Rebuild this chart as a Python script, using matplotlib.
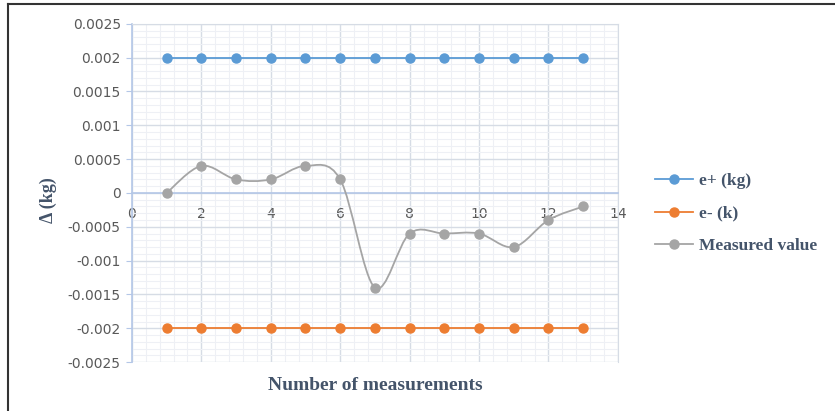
import numpy as np
import matplotlib
matplotlib.use("Agg")
from matplotlib import pyplot as plt
from matplotlib.path import Path
from matplotlib.patches import PathPatch
from matplotlib.lines import Line2D
from matplotlib.ticker import MultipleLocator

# data
measurements = [1, 2, 3, 4, 5, 6, 7, 8, 9, 10, 11, 12, 13]
e_plus = [0.002] * 13
e_minus = [-0.002] * 13
measured = [0, 0.0004, 0.0002, 0.0002, 0.0004, 0.0002, -0.0014,
            -0.0006, -0.0006, -0.0006, -0.0008, -0.0004, -0.0002]
legend_labels = ["e+ (kg)", "e- (k)", "Measured value"]

BLUE = "#5B9BD5"
ORANGE = "#ED7D31"
GREY = "#A5A5A5"
TEXT = "#595959"
TITLE = "#44546A"
SERIF = "Liberation Serif"


def smooth_path(xs, ys, tension=1 / 6):
    """Excel-like smoothed line: cubic Bezier segments through the data points."""
    x = np.asarray(xs, float)
    y = np.asarray(ys, float)
    n = len(x)
    verts = [(x[0], y[0])]
    codes = [Path.MOVETO]
    for i in range(n - 1):
        x0, y0 = (x[i - 1], y[i - 1]) if i > 0 else (x[i], y[i])
        x3, y3 = (x[i + 2], y[i + 2]) if i + 2 < n else (x[i + 1], y[i + 1])
        c1 = (x[i] + (x[i + 1] - x0) * tension, y[i] + (y[i + 1] - y0) * tension)
        c2 = (x[i + 1] - (x3 - x[i]) * tension, y[i + 1] - (y3 - y[i]) * tension)
        verts += [c1, c2, (x[i + 1], y[i + 1])]
        codes += [Path.CURVE4] * 3
    return Path(verts, codes)


fig = plt.figure(figsize=(8.35, 4.11), dpi=100)
ax = fig.add_axes([0.158, 0.119, 0.582, 0.823])

ax.set_xlim(0, 14)
ax.set_ylim(-0.0025, 0.0025)
ax.xaxis.set_major_locator(MultipleLocator(2))
ax.xaxis.set_minor_locator(MultipleLocator(0.4))
ax.yaxis.set_major_locator(MultipleLocator(0.0005))
ax.yaxis.set_minor_locator(MultipleLocator(0.0001))

ax.grid(which="minor", color="#EEF0F5", lw=0.8)
ax.grid(which="major", color="#D6DCE5", lw=1.0)
ax.set_axisbelow(True)

for s in ["top", "right"]:
    ax.spines[s].set_color("#D6DCE5")
ax.spines["left"].set_color("#B4C7E7")
ax.spines["bottom"].set_position(("data", 0))
ax.spines["bottom"].set_color("#B4C7E7")
ax.spines["bottom"].set_linewidth(1.2)
ax.spines["left"].set_linewidth(1.2)

ax.tick_params(axis="x", which="both", length=0, pad=10, labelsize=10, labelcolor=TEXT)
ax.tick_params(axis="y", which="major", length=4, color="#B4C7E7", pad=4,
               labelsize=10, labelcolor=TEXT)
ax.tick_params(axis="y", which="minor", length=0)
ax.set_yticks(np.arange(-0.0025, 0.00251, 0.0005))
ax.set_yticklabels(["-0.0025", "-0.002", "-0.0015", "-0.001", "-0.0005", "0",
                    "0.0005", "0.001", "0.0015", "0.002", "0.0025"])
ax.set_xticks(range(0, 15, 2))

ax.plot(measurements, e_plus, color=BLUE, lw=1.3, marker="o", ms=6.5, zorder=3)
ax.plot(measurements, e_minus, color=ORANGE, lw=1.3, marker="o", ms=6.5, zorder=3)
ax.add_patch(PathPatch(smooth_path(measurements, measured), fill=False,
                       edgecolor=GREY, lw=1.3, zorder=3))
ax.plot(measurements, measured, ls="none", color=GREY, marker="o", ms=6.5, zorder=4)

ax.set_ylabel("\u0394 (kg)", family=SERIF, fontweight="bold", fontsize=13,
              color=TITLE)
ax.yaxis.set_label_coords(-0.155, 0.48)
ax.set_xlabel("Number of measurements", family=SERIF, fontweight="bold",
              fontsize=14, color=TITLE)
ax.xaxis.set_label_coords(0.5, -0.045)

handles = [Line2D([], [], color=c, lw=1.3, marker="o", ms=6.5)
           for c in (BLUE, ORANGE, GREY)]
fig.legend(handles, legend_labels, loc="center left", bbox_to_anchor=(0.766, 0.48),
           frameon=False, prop={"family": SERIF, "weight": "bold", "size": 12.5},
           labelcolor=TITLE, handlelength=2.2, labelspacing=0.95, handletextpad=0.3)

# outer frame: top and left edges only
fig.add_artist(Line2D([0.0096, 1.0], [0.99, 0.99], color="#333333", lw=1.5,
                      transform=fig.transFigure))
fig.add_artist(Line2D([0.0096, 0.0096], [0.0, 0.99], color="#333333", lw=1.5,
                      transform=fig.transFigure))

fig.savefig("out.png", dpi=100)
